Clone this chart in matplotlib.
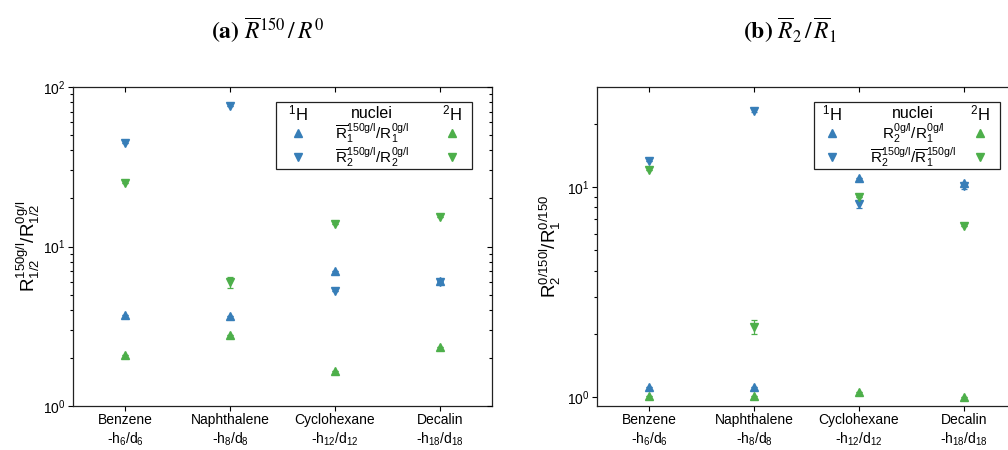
import matplotlib
matplotlib.use("Agg")
import matplotlib.pyplot as plt
from matplotlib.patches import Rectangle
from matplotlib.lines import Line2D
from matplotlib.ticker import LogLocator, LogFormatterSciNotation, NullFormatter

plt.rcParams['font.family'] = ['Liberation Sans', 'DejaVu Sans']
plt.rcParams['mathtext.fontset'] = 'custom'
plt.rcParams['mathtext.rm'] = 'Liberation Sans'
plt.rcParams['mathtext.it'] = 'Liberation Sans:italic'
plt.rcParams['mathtext.bf'] = 'Liberation Sans:bold'

# ---------------- data ----------------
categories = ["Benzene\n-h$_6$/d$_6$", "Naphthalene\n-h$_8$/d$_8$",
              "Cyclohexane\n-h$_{12}$/d$_{12}$", "Decalin\n-h$_{18}$/d$_{18}$"]

# (a) R(150 g/l) / R(0 g/l)
a_h_R1 = [3.7, 3.65, 7.05, 6.1]
a_h_R2 = [44.5, 76.0, 5.25, 5.95]
a_d_R1 = [2.1, 2.78, 1.65, 2.35]
a_d_R2 = [25.0, 5.95, 13.9, 15.2]
a_h_R1_err = [0.0, 0.0, 0.0, 0.1]
a_h_R2_err = [0.0, 0.0, 0.0, 0.1]
a_d_R1_err = [0.0, 0.0, 0.0, 0.0]
a_d_R2_err = [0.0, 0.45, 0.0, 0.0]

# (b) R2 / R1
b_h_0 = [1.11, 1.11, 11.05, 10.45]
b_h_150 = [13.3, 23.1, 8.25, 10.05]
b_d_0 = [1.01, 1.01, 1.06, 1.0]
b_d_150 = [12.1, 2.16, 9.0, 6.5]
b_h_0_err = [0.0, 0.0, 0.0, 0.0]
b_h_150_err = [0.0, 0.4, 0.3, 0.3]
b_d_0_err = [0.0, 0.0, 0.0, 0.0]
b_d_150_err = [0.0, 0.17, 0.0, 0.0]

legend_a = [r"$\overline{\mathrm{R}}_1^{\mathrm{150g/l}}/\mathrm{R}_1^{\mathrm{0g/l}}$",
            r"$\overline{\mathrm{R}}_2^{\mathrm{150g/l}}/\mathrm{R}_2^{\mathrm{0g/l}}$"]
legend_b = [r"$\mathrm{R}_2^{\mathrm{0g/l}}/\mathrm{R}_1^{\mathrm{0g/l}}$",
            r"$\overline{\mathrm{R}}_2^{\mathrm{150g/l}}/\overline{\mathrm{R}}_1^{\mathrm{150g/l}}$"]
ylabel_a = r"$\mathrm{R}_{1/2}^{\mathrm{150g/l}}/\mathrm{R}_{1/2}^{\mathrm{0g/l}}$"
ylabel_b = r"$\mathrm{R}_2^{\mathrm{0/150l}}/\mathrm{R}_1^{\mathrm{0/150}}$"
title_a = r"$\mathbf{(a)}\ \overline{R}^{150}\,/\,R^{0}$"
title_b = r"$\mathbf{(b)}\ \overline{R}_{2}\,/\,\overline{R}_{1}$"

BLUE = "#377EB8"
GREEN = "#4DAF4A"

W, H = 1008, 450
fig = plt.figure(figsize=(W / 100, H / 100), dpi=100)


def px_axes(x0, x1, y0, y1):
    return fig.add_axes([x0 / W, 1 - y1 / H, (x1 - x0) / W, (y1 - y0) / H])


ax_a = px_axes(73, 492, 87, 406)
ax_b = px_axes(597, 1016, 87, 406)

x = list(range(len(categories)))


def draw_series(ax, vals, err, marker, color):
    ax.errorbar(x, vals, yerr=err, fmt=marker, color=color, ms=6.2, mec=color,
                elinewidth=0.9, capsize=2.5, capthick=0.9, ls='none', zorder=3)


def style(ax, ylim, ylabel, labx):
    ax.set_yscale('log')
    ax.set_ylim(*ylim)
    ax.set_xlim(-0.5, 3.5)
    ax.set_xticks(x)
    ax.set_xticklabels(categories, fontsize=9.6, linespacing=1.25)
    ax.yaxis.set_major_locator(LogLocator(base=10, numticks=10))
    ax.yaxis.set_minor_locator(LogLocator(base=10, subs=range(2, 10), numticks=20))
    ax.yaxis.set_major_formatter(LogFormatterSciNotation())
    ax.yaxis.set_minor_formatter(NullFormatter())
    ax.tick_params(axis='both', which='major', direction='out', length=3.5, width=0.8,
                   labelsize=10, pad=2)
    ax.tick_params(axis='x', which='major', pad=1.5)
    ax.tick_params(axis='y', which='minor', direction='out', length=2.2, width=0.8)
    ax.tick_params(axis='x', which='minor', bottom=False)
    for s in ax.spines.values():
        s.set_linewidth(0.9)
        s.set_color('#222222')
    ax.set_ylabel(ylabel, fontsize=13.5)
    ax.yaxis.set_label_coords(labx, 0.5)
    # mirrored inward ticks on top and right
    tx = ax.twiny()
    tx.set_xlim(ax.get_xlim())
    tx.set_xticks(x)
    tx.set_xticklabels([])
    tx.tick_params(axis='x', direction='in', length=3.5, width=0.8)
    ty = ax.twinx()
    ty.set_yscale('log')
    ty.set_ylim(*ylim)
    ty.yaxis.set_major_locator(LogLocator(base=10, numticks=10))
    ty.yaxis.set_minor_locator(LogLocator(base=10, subs=range(2, 10), numticks=20))
    ty.yaxis.set_major_formatter(NullFormatter())
    ty.yaxis.set_minor_formatter(NullFormatter())
    ty.tick_params(axis='y', which='major', direction='in', length=3.5, width=0.8)
    ty.tick_params(axis='y', which='minor', direction='in', length=2.2, width=0.8)
    for t in (tx, ty):
        for s in t.spines.values():
            s.set_visible(False)


def legend_box(ax, x0, x1, y0, y1, xl, xc, xr, yh, yr1, yr2, labels):
    ax.add_patch(Rectangle((x0, y0), x1 - x0, y1 - y0, transform=ax.transAxes,
                           fill=True, facecolor='white', edgecolor='#222222',
                           lw=0.9, zorder=5))
    ax.text(xl, yh, r"$^{1}$H", transform=ax.transAxes, ha='center', va='center',
            fontsize=12, zorder=6)
    ax.text(xc, yh, "nuclei", transform=ax.transAxes, ha='center', va='center',
            fontsize=11.5, zorder=6)
    ax.text(xr, yh, r"$^{2}$H", transform=ax.transAxes, ha='center', va='center',
            fontsize=12, zorder=6)
    for yy, mk, lab in ((yr1, '^', labels[0]), (yr2, 'v', labels[1])):
        for xx, c in ((xl, BLUE), (xr, GREEN)):
            ax.add_line(Line2D([xx], [yy], transform=ax.transAxes, marker=mk,
                               color=c, ms=6.2, ls='none', zorder=6))
        ax.text(xc, yy, lab, transform=ax.transAxes, ha='center', va='center',
                fontsize=11, zorder=6)


# panel (a)
draw_series(ax_a, a_h_R1, a_h_R1_err, '^', BLUE)
draw_series(ax_a, a_h_R2, a_h_R2_err, 'v', BLUE)
draw_series(ax_a, a_d_R1, a_d_R1_err, '^', GREEN)
draw_series(ax_a, a_d_R2, a_d_R2_err, 'v', GREEN)
style(ax_a, (1, 100), ylabel_a, -0.075)
legend_box(ax_a, 0.4845, 0.952, 0.743, 0.953, 0.537, 0.714, 0.905,
           0.918, 0.856, 0.781, legend_a)

# panel (b)
draw_series(ax_b, b_h_0, b_h_0_err, '^', BLUE)
draw_series(ax_b, b_h_150, b_h_150_err, 'v', BLUE)
draw_series(ax_b, b_d_0, b_d_0_err, '^', GREEN)
draw_series(ax_b, b_d_150, b_d_150_err, 'v', GREEN)
style(ax_b, (0.906, 29.9), ylabel_b, -0.08)
legend_box(ax_b, 0.518, 0.962, 0.743, 0.953, 0.561, 0.754, 0.914,
           0.918, 0.856, 0.781, legend_b)

fig.text(268 / W, 1 - 30 / H, title_a, ha='center', va='center', fontsize=17,
         math_fontfamily='stix')
fig.text(790 / W, 1 - 30 / H, title_b, ha='center', va='center', fontsize=17,
         math_fontfamily='stix')

fig.savefig("out.png", dpi=100)
